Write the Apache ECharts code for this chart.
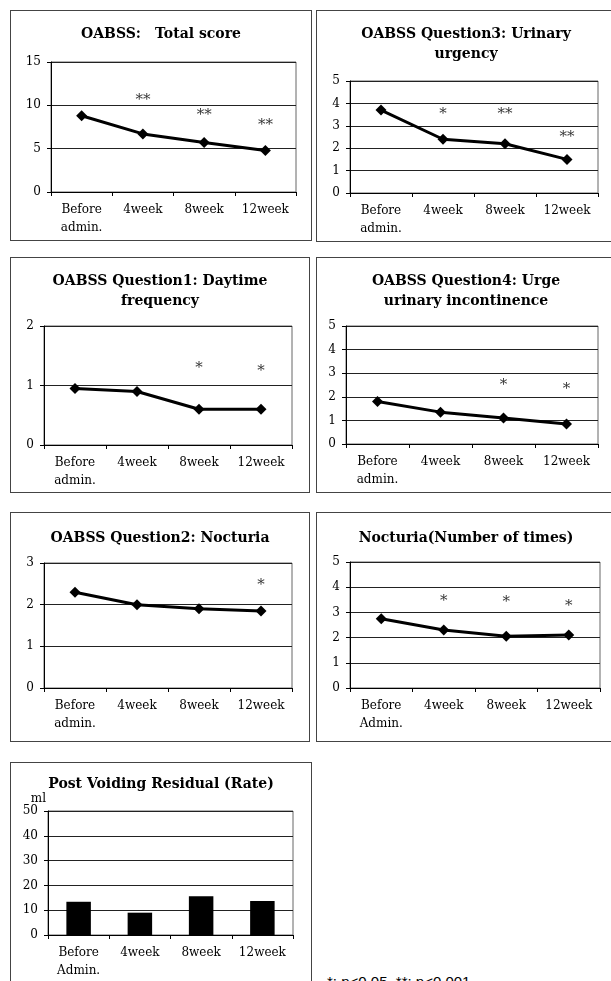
<!DOCTYPE html>
<html>
<head>
<meta charset="utf-8">
<script src="https://cdn.jsdelivr.net/npm/echarts@6/dist/echarts.min.js"></script>
<style>
html, body { margin: 0; padding: 0; background: #fff; width: 611px; height: 981px; overflow: hidden; }
.box { position: absolute; border: 1px solid #444; box-sizing: border-box; }
.note { position: absolute; left: 327px; top: 973px; font-family: "Liberation Sans", Arial, sans-serif; font-size: 15px; color: #000; white-space: nowrap; }
</style>
</head>
<body>
<div class="box" id="c1" style="left:10px;top:10px;width:302px;height:231px"></div>
<div class="box" id="c2" style="left:316px;top:10px;width:300px;height:232px"></div>
<div class="box" id="c3" style="left:10px;top:257px;width:300px;height:236px"></div>
<div class="box" id="c4" style="left:316px;top:257px;width:300px;height:236px"></div>
<div class="box" id="c5" style="left:10px;top:512px;width:300px;height:230px"></div>
<div class="box" id="c6" style="left:316px;top:512px;width:300px;height:230px"></div>
<div class="box" id="c7" style="left:10px;top:762px;width:302px;height:240px"></div>
<div class="note">*: p&lt;0.05, **: p&lt;0.001</div>

<script>
// categories
var weeks = ['Before\nadmin.', '4week', '8week', '12week']
var weeksCap = ['Before\nAdmin.', '4week', '8week', '12week']

// OABSS total score
var totalScore = [8.8, 6.7, 5.7, 4.8]
var totalStars = ['', '**', '**', '**']
var totalStarAt = [null, 10.6, 8.9, 7.7]

// Q3 urinary urgency
var urgency = [3.7, 2.4, 2.2, 1.5]
var urgencyStars = ['', '*', '**', '**']
var urgencyStarAt = [null, 3.5, 3.5, 2.5]

// Q1 daytime frequency
var daytime = [0.95, 0.9, 0.6, 0.6]
var daytimeStars = ['', '', '*', '*']
var daytimeStarAt = [null, null, 1.3, 1.24]

// Q4 urge urinary incontinence
var incontinence = [1.8, 1.35, 1.1, 0.85]
var incontinenceStars = ['', '', '*', '*']
var incontinenceStarAt = [null, null, 2.5, 2.32]

// Q2 nocturia
var nocturiaScore = [2.3, 2.0, 1.9, 1.85]
var nocturiaStars = ['', '', '', '*']
var nocturiaStarAt = [null, null, null, 2.46]

// nocturia number of times
var nocturiaTimes = [2.75, 2.3, 2.05, 2.1]
var timesStars = ['', '*', '*', '*']
var timesStarAt = [null, 3.45, 3.39, 3.25]

// post voiding residual (ml)
var residual = [13.4, 9.0, 15.6, 13.7]

var serif = '"DejaVu Serif", "Liberation Serif", serif'

function baseOption(cfg) {
    return {
        animation: false,
        title: {
            text: cfg.title,
            left: 'center',
            top: cfg.titleTop,
            textStyle: {
                fontFamily: serif,
                fontWeight: 'bold',
                fontSize: 14,
                lineHeight: 20,
                color: '#000'
            }
        },
        grid: Object.assign({
            show: true,
            borderColor: '#666',
            borderWidth: 1
        }, cfg.grid),
        xAxis: {
            type: 'category',
            data: cfg.cats,
            boundaryGap: true,
            axisLine: { lineStyle: { color: '#000', width: 1 } },
            axisTick: { show: true, length: 4, lineStyle: { color: '#000' } },
            axisLabel: {
                fontFamily: serif,
                fontSize: 12,
                lineHeight: 18,
                color: '#000',
                margin: 9,
                interval: 0
            },
            splitLine: { show: false }
        },
        yAxis: {
            type: 'value',
            min: 0,
            max: cfg.max,
            interval: cfg.step,
            axisLine: { show: true, lineStyle: { color: '#000', width: 1 } },
            axisTick: { show: true, length: 4, lineStyle: { color: '#000' } },
            axisLabel: {
                fontFamily: serif,
                fontSize: 12,
                color: '#000',
                margin: 10
            },
            splitLine: { show: true, lineStyle: { color: '#222', width: 1 } }
        },
        series: []
    }
}

function starSeries(stars, at) {
    return {
        type: 'scatter',
        symbolSize: 0,
        data: at,
        silent: true,
        label: {
            show: true,
            position: 'inside',
            fontFamily: serif,
            fontSize: 15,
            color: '#000',
            formatter: function (p) { return stars[p.dataIndex] }
        }
    }
}

function renderLine(id, cfg) {
    var option = baseOption(cfg)
    option.series.push({
        type: 'line',
        data: cfg.values,
        symbol: 'diamond',
        symbolSize: 11,
        lineStyle: { color: '#000', width: 3 },
        itemStyle: { color: '#000' }
    })
    option.series.push(starSeries(cfg.stars, cfg.starAt))
    var chart = echarts.init(document.getElementById(id))
    chart.setOption(option)
}

renderLine('c1', {
    title: 'OABSS:\u3000Total score', titleTop: 8,
    grid: { left: 40, right: 15, top: 51, height: 130 },
    cats: weeks, max: 15, step: 5,
    values: totalScore, stars: totalStars, starAt: totalStarAt
})
renderLine('c2', {
    title: 'OABSS Question3: Urinary\nurgency', titleTop: 8,
    grid: { left: 33, right: 17, top: 70, height: 112 },
    cats: weeks, max: 5, step: 1,
    values: urgency, stars: urgencyStars, starAt: urgencyStarAt
})
renderLine('c3', {
    title: 'OABSS Question1: Daytime\nfrequency', titleTop: 8,
    grid: { left: 33, right: 17, top: 68, height: 119 },
    cats: weeks, max: 2, step: 1,
    values: daytime, stars: daytimeStars, starAt: daytimeStarAt
})
renderLine('c4', {
    title: 'OABSS Question4: Urge\nurinary incontinence', titleTop: 8,
    grid: { left: 29, right: 17, top: 68, height: 118 },
    cats: weeks, max: 5, step: 1,
    values: incontinence, stars: incontinenceStars, starAt: incontinenceStarAt
})
renderLine('c5', {
    title: 'OABSS Question2: Nocturia', titleTop: 10,
    grid: { left: 33, right: 17, top: 50, height: 125 },
    cats: weeks, max: 3, step: 1,
    values: nocturiaScore, stars: nocturiaStars, starAt: nocturiaStarAt
})
renderLine('c6', {
    title: 'Nocturia(Number of times)', titleTop: 10,
    grid: { left: 33, right: 15, top: 49, height: 126 },
    cats: weeksCap, max: 5, step: 1,
    values: nocturiaTimes, stars: timesStars, starAt: timesStarAt
})

// bar chart
var barOption = baseOption({
    title: 'Post Voiding Residual (Rate)', titleTop: 6,
    grid: { left: 37, right: 18, top: 48, height: 124 },
    cats: weeksCap, max: 50, step: 10
})
barOption.yAxis.name = 'ml'
barOption.yAxis.nameGap = 6
barOption.yAxis.nameTextStyle = { fontFamily: serif, fontSize: 12, color: '#000', align: 'right', padding: [0, 2, 0, 0] }
barOption.series.push({
    type: 'bar',
    data: residual,
    barWidth: '40%',
    itemStyle: { color: '#000' }
})
var barChart = echarts.init(document.getElementById('c7'))
barChart.setOption(barOption)
</script>
</body>
</html>
